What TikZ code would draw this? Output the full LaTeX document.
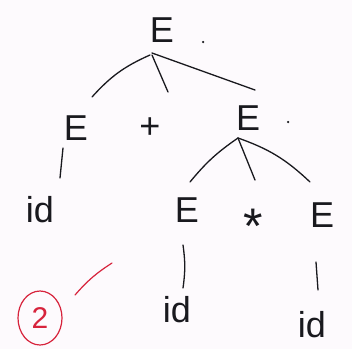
\documentclass[tikz,border=0pt]{standalone}
\usepackage{fontspec}
\setmainfont{Liberation Sans}
\definecolor{bg}{RGB}{253,250,253}
\definecolor{ink}{RGB}{25,25,30}
\definecolor{redink}{RGB}{215,35,60}
\begin{document}
\begin{tikzpicture}[x=1pt,y=-1pt,
  sym/.style={inner sep=0pt,font=\fontsize{36}{40}\selectfont,text=ink},
  idtxt/.style={inner sep=0pt,font=\fontsize{36}{40}\selectfont,text=ink},
  edge/.style={draw=ink,line width=1.3pt,line cap=round},
  dotmark/.style={circle,fill=ink,inner sep=0pt,minimum size=2.5pt}]
\fill[bg] (0,0) rectangle (352,349);
\useasboundingbox (0,0) rectangle (352,349);
% nodes
\node[sym] (root) at (162,30) {E};
\node[dotmark] (rootdot) at (203,42) {};
\node[sym] (l) at (76,128) {E};
\node[sym] (plus) at (150,128) {+};
\node[sym] (r) at (248,118) {E};
\node[dotmark] (rdot) at (288,122) {};
\node[idtxt] (lid) at (40,210) {id};
\node[sym] (rl) at (187,210) {E};
\node[sym,font=\fontsize{50}{54}\selectfont] (star) at (253,226) {*};
\node[sym] (rr) at (322,215) {E};
\node[idtxt] (rlid) at (177,310) {id};
\node[idtxt] (rrid) at (312,325) {id};
\node[inner sep=0pt,text=redink,font=\fontsize{30}{34}\selectfont] (two) at (40,318) {2};
\draw[redink,line width=1.2pt] (two.center) ellipse [x radius=22pt, y radius=27pt];
% edges
\draw[edge] ([shift={(-12,25)}]root.center) to[bend right=12] ([shift={(16,-31)}]l.center);
\draw[edge] ([shift={(-10,25)}]root.center) -- ([shift={(18,-36)}]plus.center);
\draw[edge] ([shift={(-10,23)}]root.center) -- ([shift={(7,-28)}]r.center);
\draw[edge] ([shift={(-10,20)}]r.center) to[bend right=8] ([shift={(3,-28)}]rl.center);
\draw[edge] ([shift={(-10,20)}]r.center) -- ([shift={(2,-46)}]star.center);
\draw[edge] ([shift={(-10,20)}]r.center) to[bend left=12] ([shift={(-12,-33)}]rr.center);
\draw[edge] ([shift={(-13,20)}]l.center) -- ([shift={(20,-32)}]lid.center);
\draw[edge] ([shift={(-4,35)}]rl.center) to[bend left=8] ([shift={(6,-22)}]rlid.center);
\draw[edge] ([shift={(-6,47)}]rr.center) -- ([shift={(6,-35)}]rrid.center);
\draw[draw=redink,line width=1.2pt,line cap=round] ([shift={(35,-23)}]two.center) to[bend left=8] ([shift={(72,-55)}]two.center);
\end{tikzpicture}
\end{document}
